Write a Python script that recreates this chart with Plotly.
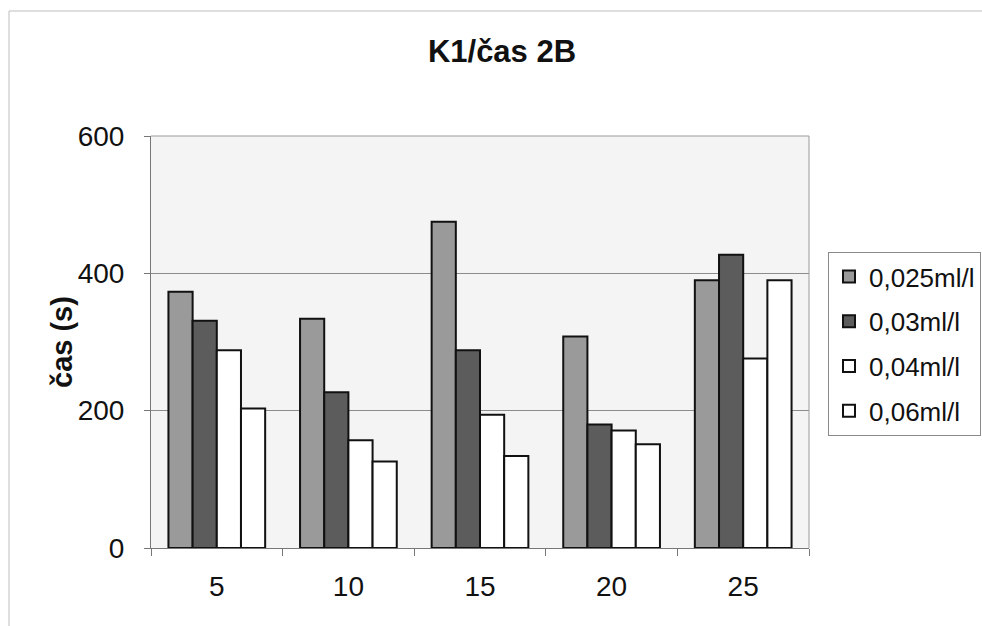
import plotly.graph_objects as go

# Chart data
categories = ["5", "10", "15", "20", "25"]
series_names = ["0,025ml/l", "0,03ml/l", "0,04ml/l", "0,06ml/l"]
values_0025 = [373, 334, 475, 308, 390]
values_003 = [331, 227, 288, 180, 427]
values_004 = [288, 157, 194, 171, 276]
values_006 = [203, 126, 134, 151, 390]
y_ticks = [0, 200, 400, 600]

series_values = [values_0025, values_003, values_004, values_006]
fill_colors = ["#9a9a9a", "#5c5c5c", "#ffffff", "#ffffff"]

W, H = 982, 626
L, R, T, B = 151, 809, 136, 548  # plot area in pixels
FONT = "Liberation Sans, Arial, sans-serif"


def px_x(p):
    return (p - L) / (R - L)


def px_y(p):
    return (B - p) / (B - T)


fig = go.Figure()
for i, (name, vals, col) in enumerate(zip(series_names, series_values, fill_colors)):
    fig.add_trace(go.Bar(
        x=categories, y=vals, name=name,
        legendgroup=f"g{i}",
        marker=dict(color=col, line=dict(color="#111111", width=2)),
    ))

shapes = [
    # outer chart frame
    dict(type="path", xref="paper", yref="paper",
         path=f"M {px_x(9)},{px_y(640)} L {px_x(9)},{px_y(11)} L {px_x(990)},{px_y(11)}",
         line=dict(color="#bdbdbd", width=1)),
    # top and right border of the plot area
    dict(type="path", xref="paper", yref="paper",
         path="M 0,1 L 1,1 L 1,0",
         line=dict(color="#9a9a9a", width=1)),
]

fig.update_layout(
    width=W, height=H,
    margin=dict(l=L, r=W - R, t=T, b=H - B, autoexpand=False),
    paper_bgcolor="#ffffff",
    plot_bgcolor="#f4f4f4",
    font=dict(family=FONT, color="#111111", size=28),
    title=dict(text="<b>K1/čas 2B</b>", x=px_x(502), xref="paper", xanchor="center",
               y=1 - 51 / H, yanchor="middle",
               font=dict(family=FONT, size=31, color="#111111")),
    barmode="group", bargap=0.265, bargroupgap=0,
    showlegend=True,
    legend=dict(x=px_x(828), y=px_y(252), xanchor="left", yanchor="top",
                bgcolor="#ffffff", bordercolor="#8a8a8a", borderwidth=1,
                font=dict(family=FONT, size=26, color="#111111"),
                tracegroupgap=8, traceorder="grouped"),
    xaxis=dict(type="category", showline=True, linecolor="#777777", linewidth=1,
               ticks="outside", ticklen=7, tickcolor="#777777", tickson="boundaries",
               showgrid=False, ticklabelstandoff=13,
               tickfont=dict(family=FONT, size=28, color="#111111")),
    yaxis=dict(range=[0, 600], tickvals=y_ticks, showline=True, linecolor="#777777",
               linewidth=1, ticks="outside", ticklen=6, tickcolor="#777777",
               showgrid=True, gridcolor="#8c8c8c", gridwidth=1, zeroline=False,
               ticklabelstandoff=14,
               tickfont=dict(family=FONT, size=28, color="#111111")),
    shapes=shapes,
    annotations=[dict(text="<b>čas (s)</b>", xref="paper", yref="paper",
                      x=px_x(62), y=0.5, xanchor="center", yanchor="middle",
                      textangle=-90, showarrow=False,
                      font=dict(family=FONT, size=29, color="#111111"))],
)

fig.write_html("out.html")
